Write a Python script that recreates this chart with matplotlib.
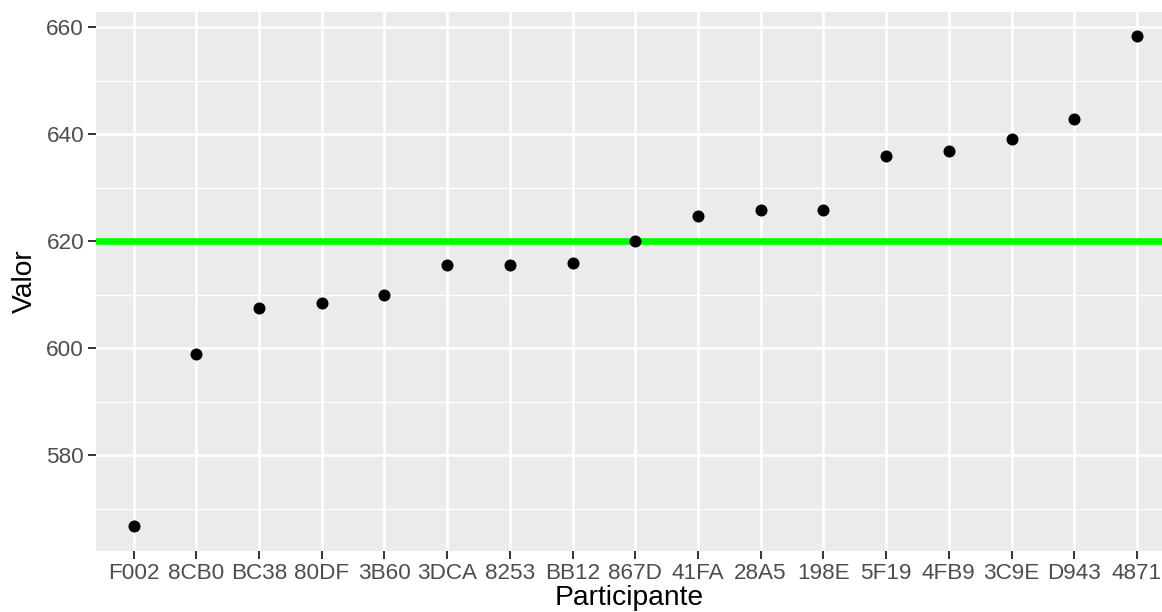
import matplotlib
matplotlib.use("Agg")
import matplotlib.pyplot as plt
from matplotlib.ticker import MultipleLocator

# Datos
participantes = ["F002", "8CB0", "BC38", "80DF", "3B60", "3DCA", "8253", "BB12", "867D",
                 "41FA", "28A5", "198E", "5F19", "4FB9", "3C9E", "D943", "4871"]
valores = [566.7, 599.0, 607.6, 608.5, 609.9, 615.6, 615.6, 616.0, 620.0,
           624.8, 625.8, 625.9, 636.0, 636.9, 639.1, 642.9, 658.3]
referencia = 620

plt.rcParams["font.family"] = ["Liberation Sans", "DejaVu Sans"]

fig = plt.figure(figsize=(11.62, 6.12), dpi=100)
ax = fig.add_axes([0.0826, 0.0997, 0.9174, 0.881])
ax.set_facecolor("#EBEBEB")

x = list(range(1, len(participantes) + 1))

# grid
ax.set_axisbelow(True)
ax.yaxis.set_major_locator(MultipleLocator(20))
ax.yaxis.set_minor_locator(MultipleLocator(10))
ax.grid(which="major", color="white", linewidth=1.9)
ax.grid(which="minor", axis="y", color="white", linewidth=0.95)

ax.axhline(referencia, color="#00FF00", linewidth=4.8, zorder=2)
ax.scatter(x, valores, s=75, color="black", zorder=3, linewidths=0)

ax.set_xticks(x)
ax.set_xticklabels(participantes)
ax.set_xlim(0.4, 17.4)
ax.set_ylim(562.1, 662.9)

for s in ax.spines.values():
    s.set_visible(False)
ax.tick_params(which="major", length=6, width=1.4, color="#333333",
               labelcolor="#4D4D4D", labelsize=16.2, pad=2.5)
ax.tick_params(which="minor", length=0)

ax.set_xlabel("Participante", fontsize=20.3, labelpad=1)
ax.set_ylabel("Valor", fontsize=20.3, labelpad=6)

fig.savefig("out.png", dpi=100)
